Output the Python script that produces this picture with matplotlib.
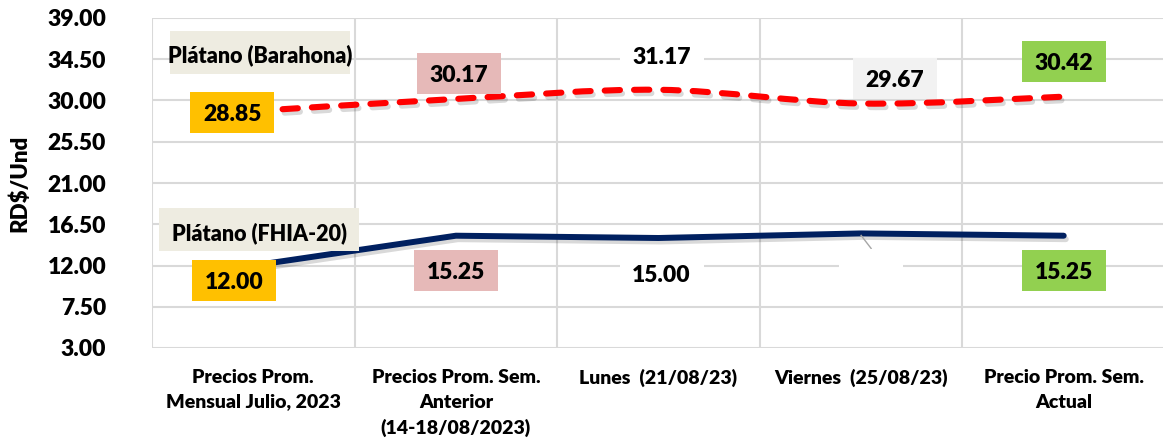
import matplotlib
matplotlib.use("Agg")
import matplotlib.pyplot as plt
import matplotlib.patheffects as pe
from matplotlib.path import Path
from matplotlib.patches import PathPatch, Rectangle
from matplotlib.transforms import Affine2D
import numpy as np

categories = ["Precios Prom.\nMensual Julio, 2023",
              "Precios Prom. Sem.\nAnterior\n(14-18/08/2023)",
              "Lunes  (21/08/23)",
              "Viernes  (25/08/23)",
              "Precio Prom. Sem.\nActual"]
barahona = [28.85, 30.17, 31.17, 29.67, 30.42]
fhia = [12.00, 15.25, 15.00, 15.50, 15.25]
barahona_labels = ["28.85", "30.17", "31.17", "29.67", "30.42"]
fhia_labels = ["12.00", "15.25", "15.00", "", "15.25"]
yticks = [3.00, 7.50, 12.00, 16.50, 21.00, 25.50, 30.00, 34.50, 39.00]

FONT = "Lato"
WT = "heavy"
W, H = 1163, 445
fig = plt.figure(figsize=(W / 100, H / 100), dpi=100)
ax = fig.add_axes([152 / W, (H - 348) / H, (1165 - 152) / W, 330 / H])
ax.set_xlim(-0.5, 4.5)
ax.set_ylim(3, 39)
ax.set_yticks(yticks)
ax.set_yticklabels([f"{v:.2f}" for v in yticks], fontfamily=FONT,
                   fontweight=WT, fontsize=16.5)
ax.set_xticks(range(len(categories)))
ax.set_xticklabels(categories, fontfamily=FONT, fontweight=WT,
                   fontsize=14, linespacing=1.55, va="top")
ax.set_xticks(np.arange(-0.5, 4.6, 1.0), minor=True)
ax.tick_params(axis="both", which="both", length=0)
ax.tick_params(axis="y", pad=33)
ax.tick_params(axis="x", pad=15)
ax.grid(axis="y", color="#D9D9D9", lw=1.5)
ax.grid(axis="x", which="minor", color="#D9D9D9", lw=1.5)
for s in ax.spines.values():
    s.set_visible(False)
ax.set_axisbelow(True)
ax.set_ylabel("RD$/Und", fontfamily=FONT, fontweight=WT, fontsize=16,
              labelpad=12)


def smooth_path(xs, ys):
    pts = np.column_stack([xs, ys]).astype(float)
    verts = [pts[0]]
    codes = [Path.MOVETO]
    n = len(pts)
    for i in range(n - 1):
        p0 = pts[i - 1] if i > 0 else pts[i]
        p1 = pts[i]
        p2 = pts[i + 1]
        p3 = pts[i + 2] if i + 2 < n else pts[i + 1]
        c1 = p1 + (p2 - p0) / 6.0
        c2 = p2 - (p3 - p1) / 6.0
        verts += [c1, c2, p2]
        codes += [Path.CURVE4] * 3
    return Path(verts, codes)


xs = np.arange(len(categories))
shadow = [pe.SimpleLineShadow(offset=(1.5, -2.5), shadow_color="black", alpha=0.15),
          pe.Normal()]
red = PathPatch(smooth_path(xs, barahona), fill=False, edgecolor="#FF0000",
                lw=4.4, linestyle=(0, (2.5, 2.3)), capstyle="round",
                joinstyle="round", zorder=4)
red.set_path_effects(shadow)
ax.add_patch(red)
blue, = ax.plot(xs, fhia, color="#002060", lw=4.3, solid_capstyle="round",
                solid_joinstyle="round", zorder=4)
blue.set_path_effects(shadow)

fig.canvas.draw()


def box_label(x, y, text, dx, dy, color, w=84, h=41, fs=16.5):
    px, py = ax.transData.transform((x, y))
    cx, cy = px + dx, py - dy
    rect = Rectangle((cx - w / 2, cy - h / 2), w, h, facecolor=color,
                     edgecolor="none", transform=Affine2D(), zorder=6,
                     clip_on=False)
    fig.add_artist(rect)
    if text:
        fig.text(cx / W, cy / H, text, ha="center", va="center_baseline",
                 fontfamily=FONT, fontweight=WT, fontsize=fs, zorder=7)
    return cx, cy


gold, pink, green, gray = "#FFC000", "#E6B9B8", "#92D050", "#F2F2F2"
red_styles = [(-21, 1, gold), (3, -25, pink), (3, -34, "white"),
              (34, -25, gray), (0, -35, green)]
blue_styles = [(-19, 15, gold), (0, 35, pink), (3, 36, "white"),
               (10, 26, "white"), (0, 35, green)]
for i in range(5):
    dx, dy, c = red_styles[i]
    box_label(i, barahona[i], barahona_labels[i], dx, dy, c)
for i in range(5):
    dx, dy, c = blue_styles[i]
    if fhia_labels[i]:
        box_label(i, fhia[i], fhia_labels[i], dx, dy, c)
    else:
        px, py = ax.transData.transform((i, fhia[i]))
        fig.add_artist(Rectangle((px - 22, py - 37), 64, 21, facecolor="white",
                                 edgecolor="none", transform=Affine2D(),
                                 zorder=6))
        fig.add_artist(plt.Line2D([px, px + 10], [py - 2, py - 15], color="#A6A6A6",
                                  lw=1, transform=Affine2D(), zorder=5))

# series name boxes
fig.add_artist(Rectangle((170, H - 74), 180, 43, facecolor="#EEECE1",
                         edgecolor="none", transform=Affine2D(), zorder=6))
fig.text(260 / W, (H - 53) / H, "Plátano (Barahona)", ha="center",
         va="center_baseline", fontfamily=FONT, fontweight=WT,
         fontsize=15.5, zorder=7)
fig.add_artist(Rectangle((159, H - 251), 200, 43, facecolor="#EEECE1",
                         edgecolor="none", transform=Affine2D(), zorder=6))
fig.text(259 / W, (H - 231) / H, "Plátano (FHIA-20)", ha="center",
         va="center_baseline", fontfamily=FONT, fontweight=WT,
         fontsize=15.5, zorder=7)

fig.savefig("out.png", dpi=100)
